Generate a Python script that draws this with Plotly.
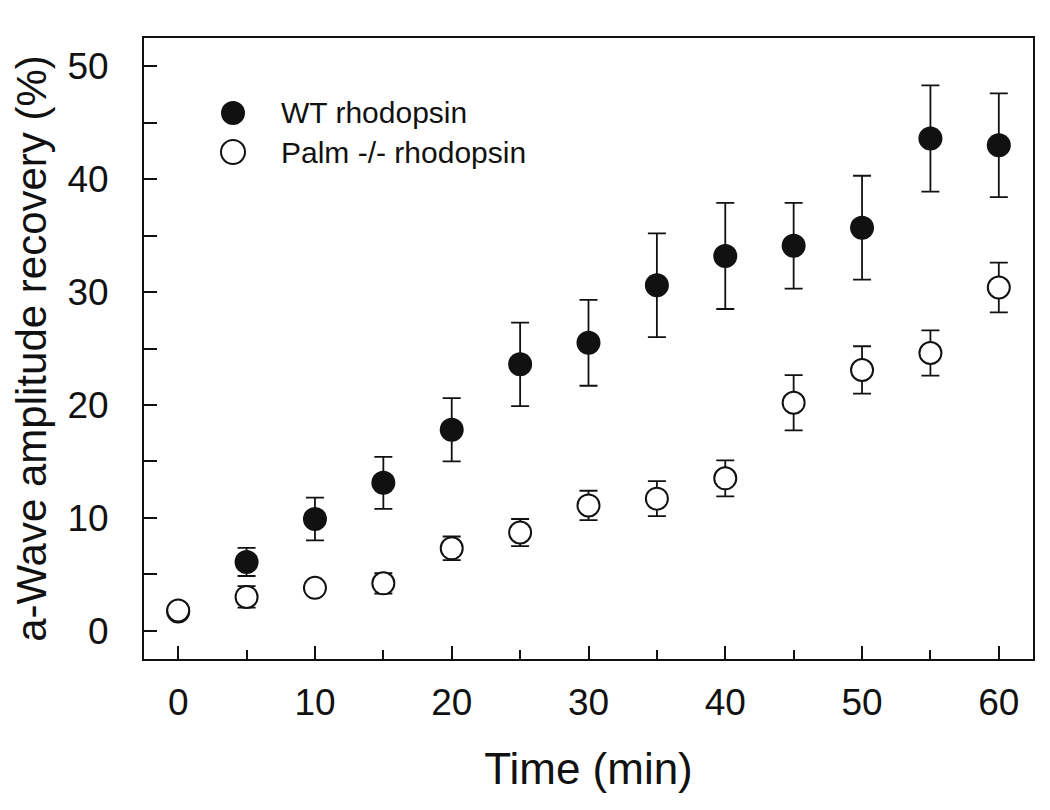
import plotly.graph_objects as go

time_min = [0, 5, 10, 15, 20, 25, 30, 35, 40, 45, 50, 55, 60]
wt_mean = [1.7, 6.1, 9.9, 13.1, 17.8, 23.6, 25.5, 30.6, 33.2, 34.1, 35.7, 43.6, 43.0]
wt_err = [0.4, 1.25, 1.9, 2.3, 2.8, 3.7, 3.8, 4.6, 4.7, 3.8, 4.6, 4.7, 4.6]
palm_mean = [1.8, 3.0, 3.8, 4.2, 7.3, 8.7, 11.1, 11.7, 13.5, 20.2, 23.1, 24.6, 30.4]
palm_err = [0.4, 0.95, 0.5, 0.9, 1.05, 1.2, 1.3, 1.55, 1.6, 2.45, 2.1, 2.0, 2.2]

legend_labels = ["WT rhodopsin", "Palm -/- rhodopsin"]
x_ticks = [0, 10, 20, 30, 40, 50, 60]
y_ticks = [0, 10, 20, 30, 40, 50]

FONT = "Liberation Sans, Arial, sans-serif"
INK = "#111111"

ML, MT, PW, PH = 136, 30, 889, 621

fig = go.Figure()
fig.add_trace(go.Scatter(
    x=time_min, y=wt_mean, mode="markers", name=legend_labels[0],
    marker=dict(size=24, color=INK, line=dict(width=0)),
    error_y=dict(type="data", array=wt_err, visible=True, color=INK, thickness=1.8, width=9),
    showlegend=False,
))
fig.add_trace(go.Scatter(
    x=time_min, y=palm_mean, mode="markers", name=legend_labels[1],
    marker=dict(size=22, color="white", line=dict(width=2, color=INK)),
    error_y=dict(type="data", array=palm_err, visible=True, color=INK, thickness=1.8, width=9),
    showlegend=False,
))

# manual legend (positions in paper fraction of plot area)
leg_y = [1 - (113 - 38) / PH, 1 - (152 - 38) / PH]
for i, lab in enumerate(legend_labels):
    filled = i == 0
    fig.add_shape(type="circle", xref="paper", yref="paper",
                  xsizemode="pixel", ysizemode="pixel",
                  xanchor=(233 - 144) / PW, yanchor=leg_y[i],
                  x0=-12, x1=12, y0=-12, y1=12,
                  fillcolor=INK if filled else "white",
                  line=dict(color=INK, width=0 if filled else 2))
    fig.add_annotation(x=(281 - 144) / PW, y=leg_y[i], xref="paper", yref="paper",
                       text=lab, showarrow=False, xanchor="left", yanchor="middle",
                       xshift=-2, font=dict(family=FONT, size=30, color=INK))

fig.update_layout(
    width=1050, height=810,
    margin=dict(l=ML, r=1050 - ML - PW, t=MT, b=810 - MT - PH, autoexpand=False),
    paper_bgcolor="white", plot_bgcolor="white",
    font=dict(family=FONT, color=INK),
    showlegend=False,
)
fig.update_xaxes(
    range=[-2.5, 62.5], tickvals=x_ticks, ticks="inside", ticklen=13, tickwidth=1.8, tickcolor=INK,
    minor=dict(dtick=5, tick0=0, ticks="inside", ticklen=9, tickwidth=1.8, tickcolor=INK),
    showline=True, linewidth=2, linecolor=INK, mirror=True, showgrid=False, zeroline=False,
    tickfont=dict(size=37, family=FONT, color=INK), ticklabelstandoff=10, automargin=False,
    title=dict(text="Time (min)", font=dict(size=44, family=FONT, color=INK), standoff=31),
)
fig.update_yaxes(
    range=[-2.5, 52.5], tickvals=y_ticks, ticks="inside", ticklen=13, tickwidth=1.8, tickcolor=INK,
    minor=dict(dtick=5, tick0=0, ticks="inside", ticklen=13, tickwidth=1.8, tickcolor=INK),
    showline=True, linewidth=2, linecolor=INK, mirror=True, showgrid=False, zeroline=False,
    tickfont=dict(size=37, family=FONT, color=INK), ticklabelstandoff=26, automargin=False,
    title=dict(text="a-Wave amplitude recovery (%)", font=dict(size=42, family=FONT, color=INK), standoff=12),
)

fig.write_html("out.html")
